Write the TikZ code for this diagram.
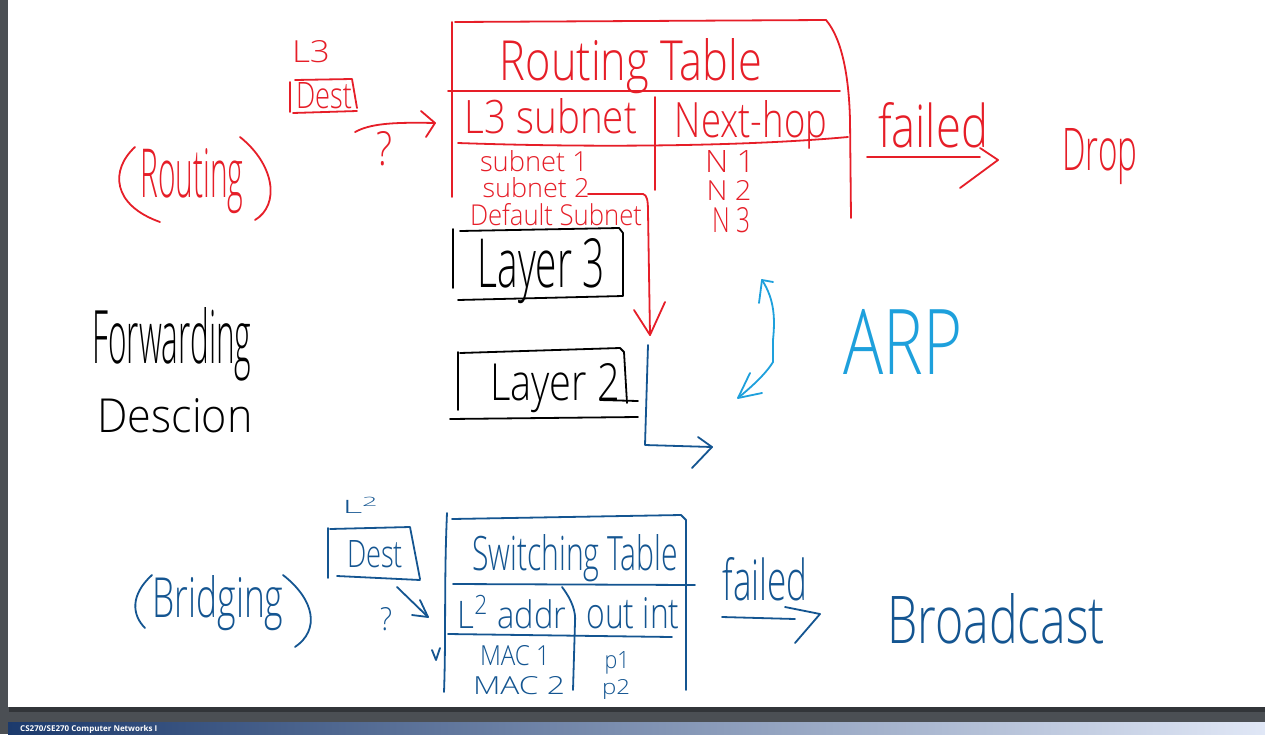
\documentclass[tikz,border=0pt]{standalone}
\usepackage{fontspec}
\IfFontExistsTF{Open Sans Light}{\setmainfont{Open Sans Light}}{\setmainfont{Open Sans}}
\newfontfamily\footerfont{Open Sans}
\usepackage{graphicx}
\definecolor{hwred}{RGB}{230,30,40}
\definecolor{hwblue}{RGB}{20,85,145}
\definecolor{hwcyan}{RGB}{30,160,220}
\definecolor{bggrey}{RGB}{75,79,84}
\definecolor{shadowgrey}{RGB}{50,53,57}
\definecolor{barL}{RGB}{28,58,108}
\definecolor{barR}{RGB}{224,231,246}
\newcommand{\hw}[3]{\resizebox{#1pt}{#2pt}{#3}}
\tikzset{
  pen/.style={line width=1.8pt, line cap=round, line join=round},
  redpen/.style={pen, draw=hwred},
  bluepen/.style={pen, draw=hwblue},
  cyanpen/.style={pen, draw=hwcyan},
  blackpen/.style={pen, draw=black},
  hwtext/.style={anchor=base, inner sep=0pt, outer sep=0pt},
  redtext/.style={hwtext, text=hwred},
  bluetext/.style={hwtext, text=hwblue},
  blacktext/.style={hwtext, text=black},
  cyantext/.style={hwtext, text=hwcyan},
}
\begin{document}
\begin{tikzpicture}[x=1pt,y=-1pt]
\useasboundingbox (0,0) rectangle (1265,734);
% screen background, page and footer bar
\fill[bggrey] (0,0) rectangle (1265,734);
\fill[shadowgrey] (9,3) rectangle (1265,712);
\fill[white] (8,0) rectangle (1265,707);
\shade[left color=barL, right color=barR] (8,722) rectangle (1265,734);
\node[anchor=base west, inner sep=0pt, text=white, font=\footerfont\bfseries\fontsize{8}{9}\selectfont] (footer) at (20,731.5) {CS270/SE270 Computer Networks I};

% ---------------- red: routing ----------------
\node[redtext] (l3) at (311,62) {\hw{38}{22}{L3}};
\node[redtext] (rdest) at (324,108) {\hw{56}{26}{Dest}};
\node[redtext] (rq) at (384,165) {\hw{16}{34}{?}};
\node[redtext] (routing) at (192,197) {\hw{103}{49}{Routing}};
\node[redtext] (rtitle) at (631,80) {\hw{262}{42}{Routing Table}};
\node[redtext] (l3sub) at (551,133) {\hw{172}{35}{L3 subnet}};
\node[redtext] (nexthop) at (751,137) {\hw{152}{37}{Next-hop}};
\node[redtext] (s1) at (534,171) {\hw{108}{21}{subnet 1}};
\node[redtext] (n1) at (730,172) {\hw{50}{22}{N 1}};
\node[redtext] (s2) at (536,197) {\hw{107}{20}{subnet 2}};
\node[redtext] (n2) at (729,200) {\hw{45}{20}{N 2}};
\node[redtext] (sdef) at (556,225) {\hw{172}{22}{Default Subnet}};
\node[redtext] (n3) at (731,232) {\hw{38}{25}{N 3}};
\node[redtext] (rfailed) at (933,147) {\hw{110}{45}{failed}};
\node[redtext] (drop) at (1100,170) {\hw{75}{42}{Drop}};

\draw[redpen] (135,147) .. controls (110,170) and (112,205) .. (160,222);
\draw[redpen] (240,137) .. controls (275,165) and (280,205) .. (255,220);
% dest box
\draw[redpen] (290,82) -- (290,112);
\draw[redpen] (295,80) -- (352,79) -- (357,108);
\draw[redpen] (293,113) -- (357,111);
% question arrow into table
\coordinate (rqs) at (355,132);
\coordinate (rqe) at (435,123);
\draw[redpen] (rqs) .. controls (370,124) and (390,122) .. (rqe);
\draw[redpen] (421,111) -- (rqe) -- (426,137);
% routing table frame
\draw[redpen] (455,22) -- (826,20) .. controls (843,40) and (849,80) .. (850,120) -- (851,218);
\draw[redpen] (452,22) -- (452,197);
\draw[redpen] (448,91) -- (840,91);
\draw[redpen] (655,97) -- (655,190);
\draw[redpen] (458,143) .. controls (600,148) and (750,146) .. (848,137);
% subnet 2 -> layer 2
\coordinate (ra) at (588,194);
\coordinate (rb) at (650,335);
\draw[redpen] (ra) -- (643,194) .. controls (647,195) and (648,200) .. (648,212) -- (rb);
\draw[redpen] (634,310) -- (rb) -- (665,302);
% failed -> drop
\coordinate (fa) at (867,157);
\coordinate (fb) at (998,160);
\draw[redpen] (fa) -- (980,157);
\draw[redpen] (980,148) -- (fb) -- (960,188);

% ---------------- black: forwarding ----------------
\node[blacktext] (fwd) at (172,363) {\hw{159}{56}{Forwarding}};
\node[blacktext] (desc) at (175,432) {\hw{155}{34}{Descion}};
\node[blacktext] (layer3) at (541,287) {\hw{127}{49}{Layer 3}};
\node[blacktext] (layer2) at (555,400) {\hw{130}{37}{Layer 2}};
\draw[blackpen] (453,229) -- (453,288);
\draw[blackpen] (460,231) -- (619,228) -- (623,233) -- (623,296) -- (458,300);
\draw[blackpen] (458,352) -- (458,410);
\draw[blackpen] (460,353) -- (620,348) -- (624,352) -- (627,403);
\draw[blackpen] (600,400) -- (638,401);
\draw[blackpen] (450,419) -- (638,417);

% ---------------- cyan: ARP ----------------
\node[cyantext] (arp) at (903,374) {\hw{119}{65}{ARP}};
\coordinate (ca) at (762,280);
\coordinate (cb) at (738,398);
\draw[cyanpen] (ca) .. controls (775,300) and (775,320) .. (773,340) -- (773,362) .. controls (765,375) and (750,388) .. (cb);
\draw[cyanpen] (759,303) -- (ca) -- (773,282);
\draw[cyanpen] (750,373) -- (cb) -- (762,393);

% ---------------- blue: bridging ----------------
\coordinate (ba) at (648,345);
\coordinate (bb) at (712,447);
\draw[bluepen] (ba) -- (645,445) -- (bb);
\draw[bluepen] (698,437) -- (bb) -- (692,468);

\node[bluetext] (l2) at (361,513) {\hw{37}{16}{L\textsuperscript{2}}};
\node[bluetext] (bdest) at (375,567) {\hw{56}{27}{Dest}};
\node[bluetext] (bq) at (386,630) {\hw{12}{23}{?}};
\node[bluetext] (bridging) at (218,617) {\hw{131}{42}{Bridging}};
\node[bluetext] (stitle) at (575,570) {\hw{206}{36}{Switching Table}};
\node[bluetext] (l2addr) at (512,628) {\hw{109}{33}{L\textsuperscript{2} addr}};
\node[bluetext] (outint) at (633,628) {\hw{93}{31}{out int}};
\node[bluetext] (mac1) at (515,665) {\hw{70}{20}{MAC 1}};
\node[bluetext] (p1) at (617,668) {\hw{25}{17}{p1}};
\node[bluetext] (mac2) at (519,694) {\hw{92}{18}{MAC 2}};
\node[bluetext] (p2) at (616,694) {\hw{28}{15}{p2}};
\node[bluetext] (bfailed) at (765,600) {\hw{85}{43}{failed}};
\node[bluetext] (bcast) at (996,643) {\hw{218}{50}{Broadcast}};

\draw[bluepen] (152,575) .. controls (130,595) and (132,615) .. (145,628);
\draw[bluepen] (283,575) .. controls (315,600) and (320,630) .. (295,647);
% dest box
\draw[bluepen] (328,528) -- (328,578);
\draw[bluepen] (330,529) -- (410,527) -- (420,579);
\draw[bluepen] (337,576) -- (420,580);
% ? arrow
\coordinate (qa) at (397,587);
\coordinate (qb) at (428,617);
\draw[bluepen] (qa) -- (qb);
\draw[bluepen] (420,600) -- (qb) -- (412,615);
% switching table
\draw[bluepen] (447,513) .. controls (444,580) and (446,640) .. (444,692);
\draw[bluepen] (452,519) -- (681,515) -- (686,520) -- (686,690);
\draw[bluepen] (453,584) -- (695,585);
\draw[bluepen] (562,587) .. controls (572,600) and (576,612) .. (575,622) -- (573,690);
\draw[bluepen] (448,634) -- (672,637);
\draw[bluepen] (432,650) -- (436,660) -- (440,648);
% failed -> broadcast
\coordinate (bfa) at (722,617);
\coordinate (bfb) at (820,614);
\draw[bluepen] (bfa) -- (795,619);
\draw[bluepen] (785,607) -- (bfb) -- (795,643);
\end{tikzpicture}
\end{document}
